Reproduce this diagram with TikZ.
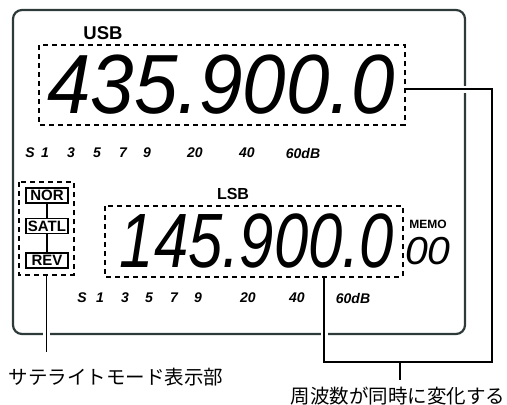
\documentclass[tikz,border=0pt]{standalone}
\usepackage{fontspec}
\setmainfont{Liberation Sans}
\newfontfamily\jpfont{Noto Sans CJK JP}
\usepackage{xcolor}
\definecolor{panel}{HTML}{2E3A3A}
\usetikzlibrary{positioning,calc}

\begin{document}
\begin{tikzpicture}[x=1pt,y=-1pt]
\tikzstyle{dbox}=[draw,dash pattern=on 5pt off 4pt,line width=1.7pt,inner sep=0pt]
\tikzstyle{mode}=[draw,line width=1.5pt,minimum width=42pt,minimum height=15pt,inner sep=0pt,font=\fontsize{15}{15}\selectfont\bfseries]
\tikzstyle{smeter}=[inner sep=0pt,font=\fontsize{14}{14}\selectfont\bfseries\itshape]
\tikzstyle{lcd}=[inner sep=0pt,font=\itshape]
\tikzstyle{lead}=[line width=1.9pt,preaction={draw,white,line width=7pt}]
\tikzstyle{note}=[inner sep=0pt,font=\fontsize{19.5}{20}\selectfont\jpfont]
\useasboundingbox (0,0) rectangle (507,405);
% panel outline
\draw[panel,line width=2.2pt,rounded corners=9pt] (13,10) rectangle (465,334);

% leader lines (drawn before the boxes)
\node[dbox,draw=none,minimum width=364pt,minimum height=78pt] (upbox) at (222,85) {};
\node[dbox,draw=none,minimum width=296pt,minimum height=69pt] (lowbox) at (254,241.5) {};
\node[dbox,draw=none,minimum width=53pt,minimum height=91pt] (modebox) at (46.5,228.5) {};
\coordinate (satend) at (46.5,352);
\coordinate (bend) at (492,362);
\coordinate (tick) at (400,362);
\coordinate (tickend) at (400,380);
\draw[lead] (modebox.south) -- (satend);
\draw[lead] ([xshift=70pt]lowbox.south) |- (bend) |- ([yshift=-4pt]upbox.east);
\draw[line width=1.9pt] (tick) -- (tickend);

% dashed display areas
\draw[dbox] (upbox.north west) rectangle (upbox.south east);
\draw[dbox] (lowbox.north west) rectangle (lowbox.south east);
\draw[dbox] (modebox.north west) rectangle (modebox.south east);

% upper display
\node[font=\fontsize{18.5}{18.5}\selectfont\bfseries] (usb) at (103,33) {USB};
\node[lcd,font=\fontsize{84}{84}\selectfont\itshape,xscale=0.93] (upfreq) at (221,85) {435.900.0};
\foreach \t/\x in {S/30,1/45,3/71,5/97,7/123,9/147,20/195,40/247,60dB/303}
  \node[smeter] (up\t) at (\x,153) {\t};

% lower display
\node[font=\fontsize{16}{16}\selectfont\bfseries] (lsb) at (233,194) {LSB};
\node[lcd,font=\fontsize{77}{77}\selectfont\itshape,xscale=0.8] (lowfreq) at (257,241) {145.900.0};
\node[font=\fontsize{12}{12}\selectfont\bfseries] (memo) at (428,224) {MEMO};
\node[lcd,font=\fontsize{39}{39}\selectfont\itshape,xscale=1.05] (memoch) at (428,251) {00};
\foreach \t/\x in {S/82,1/100,3/125,5/149,7/174,9/198,20/248,40/297,60dB/353}
  \node[smeter] (low\t) at (\x,298) {\t};

% satellite mode indicators
\node[mode] (nor) at (47,195.5) {NOR};
\node[mode] (satl) at (47,226) {SATL};
\node[mode] (rev) at (47,260.5) {REV};
\draw[line width=1.3pt] (nor) -- (satl);
\draw[line width=1.3pt] (satl) -- (rev);

% notes
\node[note] (satnote) at (116,377) {サテライトモード表示部};
\node[note] (freqnote) at (398,396) {周波数が同時に変化する};
\end{tikzpicture}
\end{document}
